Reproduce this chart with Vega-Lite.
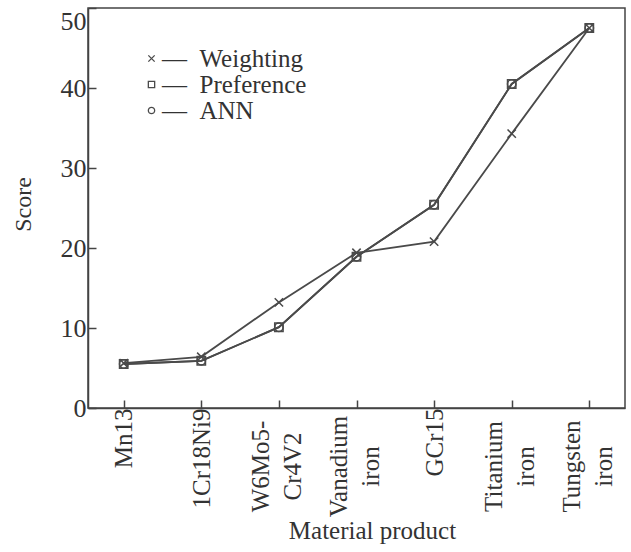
{
  "$schema": "https://vega.github.io/schema/vega-lite/v6.json",
  "width": 537,
  "height": 400,
  "autosize": "none",
  "padding": {"left": 88, "top": 8, "right": 6, "bottom": 144},
  "background": "white",
  "config": {
    "font": "Liberation Serif",
    "view": {"stroke": "#444444", "strokeWidth": 1.5},
    "axis": {
      "domainColor": "#444444",
      "domainWidth": 1.5,
      "tickColor": "#444444",
      "tickWidth": 1.5,
      "labelColor": "#333333",
      "titleColor": "#333333",
      "titleFontWeight": "normal",
      "grid": false
    }
  },
  "data": {
    "values": [
      {"material": "Mn13", "method": "Weighting", "score": 5.6},
      {"material": "1Cr18Ni9", "method": "Weighting", "score": 6.4},
      {"material": "W6Mo5-Cr4V2", "method": "Weighting", "score": 13.2},
      {"material": "Vanadium iron", "method": "Weighting", "score": 19.4},
      {"material": "GCr15", "method": "Weighting", "score": 20.8},
      {"material": "Titanium iron", "method": "Weighting", "score": 34.3},
      {"material": "Tungsten iron", "method": "Weighting", "score": 47.5},
      {"material": "Mn13", "method": "ANN", "score": 5.5},
      {"material": "1Cr18Ni9", "method": "ANN", "score": 5.9},
      {"material": "W6Mo5-Cr4V2", "method": "ANN", "score": 10.1},
      {"material": "Vanadium iron", "method": "ANN", "score": 18.9},
      {"material": "GCr15", "method": "ANN", "score": 25.4},
      {"material": "Titanium iron", "method": "ANN", "score": 40.5},
      {"material": "Tungsten iron", "method": "ANN", "score": 47.5},
      {"material": "Mn13", "method": "Preference", "score": 5.5},
      {"material": "1Cr18Ni9", "method": "Preference", "score": 5.9},
      {"material": "W6Mo5-Cr4V2", "method": "Preference", "score": 10.1},
      {"material": "Vanadium iron", "method": "Preference", "score": 18.9},
      {"material": "GCr15", "method": "Preference", "score": 25.4},
      {"material": "Titanium iron", "method": "Preference", "score": 40.5},
      {"material": "Tungsten iron", "method": "Preference", "score": 47.5}
    ]
  },
  "encoding": {
    "x": {
      "field": "material",
      "type": "nominal",
      "sort": null,
      "scale": {"type": "point", "padding": 0.46},
      "axis": {
        "title": "Material product",
        "titleFontSize": 25,
        "titleX": 284,
        "titlePadding": 2,
        "labelAngle": -90,
        "labelFontSize": 25,
        "labelLineHeight": 32,
        "labelAlign": {"condition": {"test": "indexof(datum.value, ' ') >= 0 || datum.value == 'W6Mo5-Cr4V2'", "value": "center"}, "value": "right"},
        "labelPadding": {"condition": {"test": "indexof(datum.value, ' ') >= 0 || datum.value == 'W6Mo5-Cr4V2'", "value": 66}, "value": 8},
        "labelOffset": {"condition": {"test": "indexof(datum.value, ' ') >= 0 || datum.value == 'W6Mo5-Cr4V2'", "value": -18}, "value": 0},
        "tickSize": -8,
        "labelExpr": "datum.label == 'W6Mo5-Cr4V2' ? ['W6Mo5-', 'Cr4V2'] : split(datum.label, ' ')"
      }
    },
    "y": {
      "field": "score",
      "type": "quantitative",
      "scale": {"domain": [0, 50], "nice": false},
      "axis": {
        "title": "Score",
        "titleFontSize": 24,
        "titleY": 196,
        "titlePadding": 25,
        "values": [0, 10, 20, 30, 40, 50],
        "labelFontSize": 26,
        "labelPadding": 10,
        "labelBaseline": {"condition": {"test": "datum.value == 50", "value": "top"}, "value": "middle"},
        "tickSize": -8
      }
    }
  },
  "layer": [
    {
      "mark": {"type": "line", "color": "#4a4a4a", "strokeWidth": 1.8},
      "encoding": {"detail": {"field": "method", "type": "nominal"}}
    },
    {
      "mark": {"type": "point", "filled": false, "color": "#4a4a4a", "strokeWidth": 1.5, "size": 70, "opacity": 1},
      "encoding": {
        "shape": {
          "field": "method",
          "type": "nominal",
          "scale": {
            "domain": ["Weighting", "Preference", "ANN"],
            "range": ["M-1,-1L1,1M-1,1L1,-1", "square", "circle"]
          },
          "legend": {
            "title": null,
            "orient": "none",
            "legendX": 51,
            "legendY": 38,
            "padding": 0,
            "symbolSize": 40,
            "symbolStrokeWidth": 1.3,
            "symbolStrokeColor": "#4a4a4a",
            "symbolFillColor": "transparent",
            "labelFont": "Liberation Serif",
            "labelFontSize": 25,
            "labelColor": "#333333",
            "labelOffset": -2,
            "rowPadding": 0,
            "labelExpr": "'—\u2002' + datum.label"
          }
        }
      }
    }
  ]
}
